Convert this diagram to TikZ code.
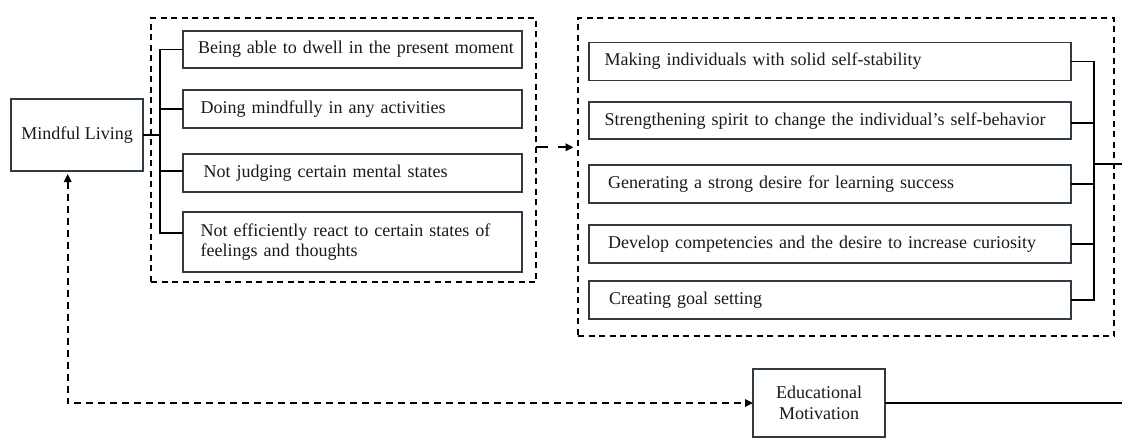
\documentclass[tikz,border=0pt]{standalone}
\usepackage{fontspec}
\setmainfont{Liberation Serif}
\usetikzlibrary{arrows.meta,calc}

\definecolor{boxline}{RGB}{47,58,68}
\definecolor{inktext}{RGB}{25,25,25}

\begin{document}
\begin{tikzpicture}[x=1pt,y=-1pt,
  itembox/.style={draw=boxline, line width=1.8pt, anchor=north west,
    inner xsep=15pt, inner ysep=0pt, outer sep=0pt, align=left,
    text=inktext, font=\fontsize{18}{20}\selectfont},
  colA/.style={itembox, text width=309pt},
  colB/.style={itembox, text width=452.6pt},
  mainbox/.style={draw=boxline, line width=1.8pt, anchor=north west,
    minimum width=132pt, inner sep=0pt, outer sep=0pt, align=center,
    text=inktext, font=\fontsize{18}{21}\selectfont},
  groupbox/.style={draw=black, line width=1.7pt, dash pattern=on 6pt off 4.5pt,
    anchor=north west, inner sep=0pt, outer sep=0pt},
  branch/.style={draw=black, line width=1.7pt},
  linkarrow/.style={draw=black, line width=2pt, dash pattern=on 12pt off 10pt,
    -{Triangle[length=8pt,width=7.5pt]}, shorten >=4.5pt},
  loopline/.style={draw=black, line width=1.7pt, dash pattern=on 7pt off 5pt,
    {Triangle[length=8pt,width=7.5pt]}-{Triangle[length=8pt,width=7.5pt]},
    shorten <=3pt},
]
\useasboundingbox (0,0) rectangle (1122,440);

% dashed group frames
\node[groupbox, minimum width=385pt, minimum height=264pt] (g1) at (151,18.3) {};
\node[groupbox, minimum width=536pt, minimum height=318.2pt] (g2) at (578,17.8) {};

% main concepts
\node[mainbox, minimum height=72pt] (ml) at (11,99) {Mindful Living};
\node[mainbox, minimum height=68pt] (em) at (753,369) {Educational\\Motivation};

% indicators of mindful living
\node[colA, minimum height=37.6pt] (c11) at (183,30.7) {\mbox{Being able to dwell in the present moment}};
\node[colA, minimum height=38.3pt] (c12) at (183,90) {\mbox{\hspace*{2.7pt}Doing mindfully in any activities}};
\node[colA, minimum height=38pt] (c13) at (183,154) {\mbox{\hspace*{5.6pt}Not judging certain mental states}};
\node[colA, minimum height=60pt] (c14) at (183,212) {\mbox{\hspace*{2.7pt}Not efficiently react to certain states of}\\\mbox{\hspace*{2.7pt}feelings and thoughts}};

% indicators of educational motivation
\node[colB, minimum height=38pt] (c21) at (588.7,42.5) {\mbox{\hspace*{1pt}Making individuals with solid self-stability}};
\node[colB, minimum height=37pt] (c22) at (588.7,102.3) {\mbox{\hspace*{1pt}Strengthening spirit to change the individual's self-behavior}};
\node[colB, minimum height=38pt] (c23) at (588.7,165) {\mbox{\hspace*{4.5pt}Generating a strong desire for learning success}};
\node[colB, minimum height=38pt] (c24) at (588.7,224.8) {\mbox{\hspace*{4.5pt}Develop competencies and the desire to increase curiosity}};
\node[colB, minimum height=38pt] (c25) at (588.7,281) {\mbox{\hspace*{5.5pt}Creating goal setting}};

% left bracket tree
\coordinate (j1) at (160,0);
\coordinate (b11) at (c11.west);
\coordinate (b12) at (c12.west);
\coordinate (b13) at ($(c13.west)+(0,-2.3)$);
\coordinate (b14) at ($(c14.west)+(0,-9.3)$);
\draw[branch] (b11) -- (b11 -| j1) -- (b14 -| j1) -- (b14);
\draw[branch] (b12) -- (b12 -| j1);
\draw[branch] (b13) -- (b13 -| j1);
\draw[branch] (ml.east) -- (ml.east -| j1);

% right bracket tree
\coordinate (j2) at (1094.3,0);
\coordinate (b22) at ($(c22.east)+(0,1.9)$);
\draw[branch] (c21.east) -- (c21.east -| j2) -- (c25.east -| j2) -- (c25.east);
\draw[branch] (b22) -- (b22 -| j2);
\draw[branch] (c23.east) -- (c23.east -| j2);
\draw[branch] (c24.east) -- (c24.east -| j2);
\coordinate (edge) at (1122,164);
\draw[branch] (edge -| j2) -- (edge);
\draw[branch] (em.east) -- (em.east -| edge);

% links between groups
\coordinate (lk) at (0,147.3);
\draw[linkarrow] (g1.east |- lk) -- (g2.west |- lk);
\draw[loopline] ([xshift=-9.3pt]ml.south) |- (em.west);
\end{tikzpicture}
\end{document}
